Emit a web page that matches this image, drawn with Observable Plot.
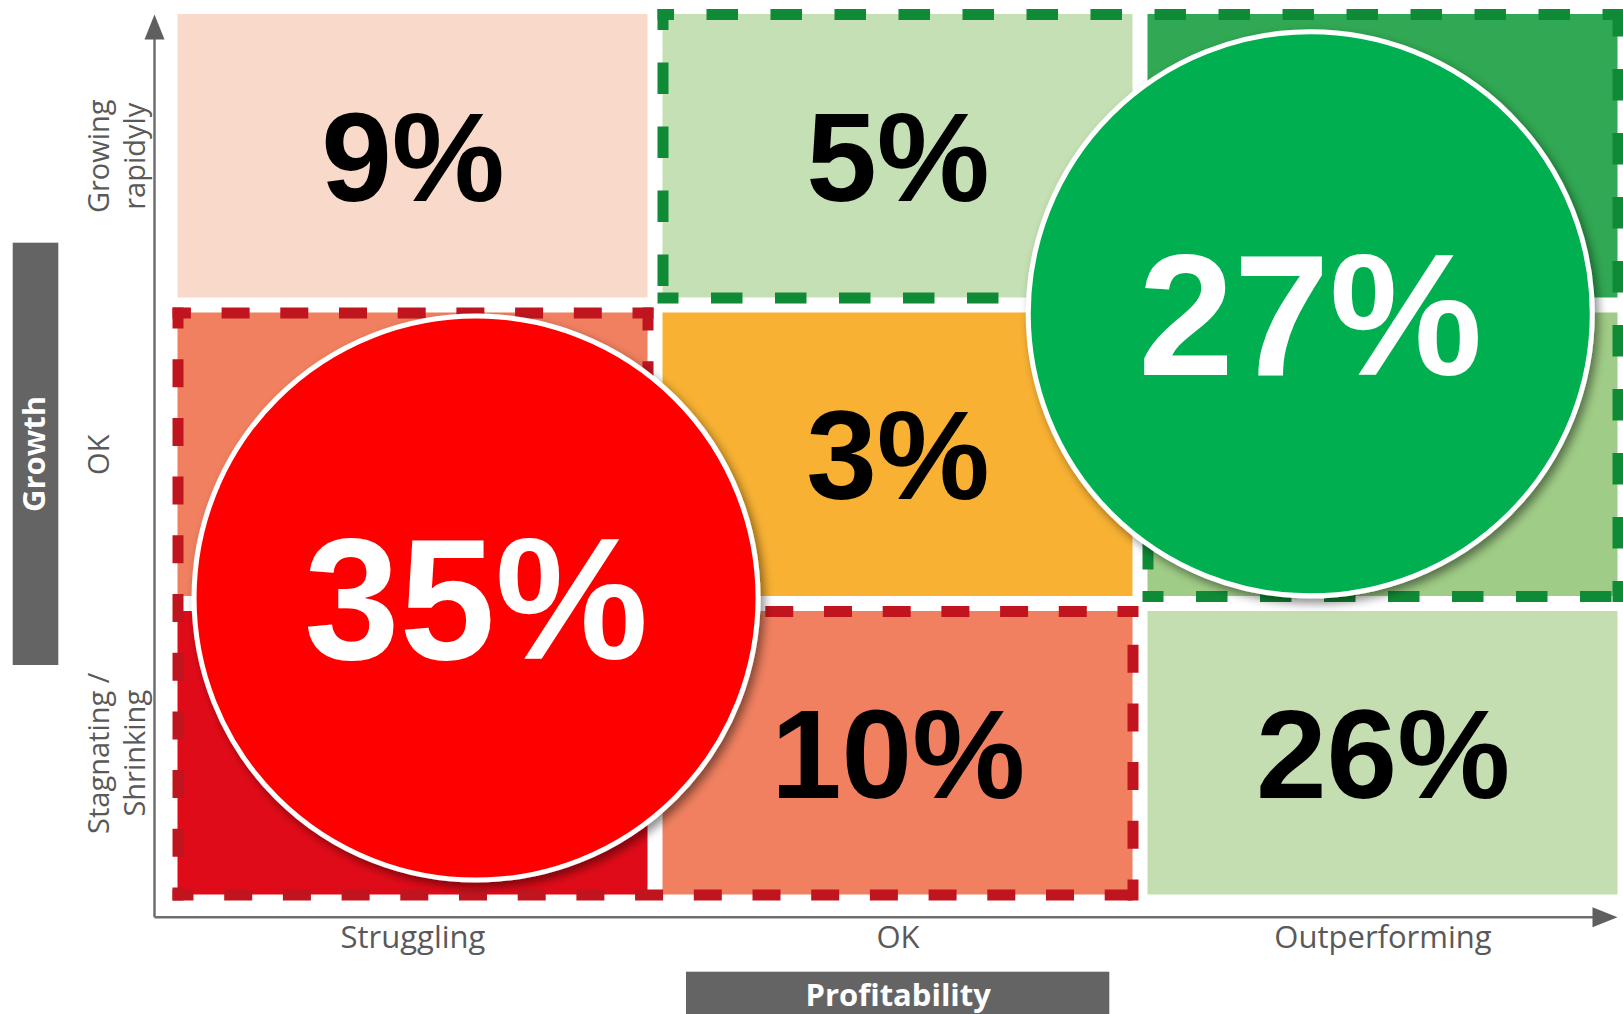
<!DOCTYPE html>
<html><head><meta charset="utf-8">
<script src="https://cdn.jsdelivr.net/npm/d3@7"></script>
<script src="https://cdn.jsdelivr.net/npm/@observablehq/plot@0.6"></script>
<style>
html,body{margin:0;padding:0;background:#fff;}
#chart{width:1623px;height:1014px;overflow:hidden;}
</style></head>
<body><div id="chart"></div>
<script>
// ---------- data ----------
const profitability = ["Struggling", "OK", "Outperforming"];            // x categories, left → right
const growth = ["Stagnating /\nShrinking", "OK", "Growing\nrapidyly"];  // y categories, bottom → top
// share of companies per cell, rows bottom → top, columns left → right
const cellShares = [
  ["", "10%", "26%"],
  ["", "3%", ""],
  ["9%", "5%", ""]
];
// highlighted totals (bubbles), positioned in category units
const bubbleLabels = ["35%", "27%"];
const bubbleX = [0.63, 2.35];
const bubbleY = [1.02, 1.972];
// outlined groups as grid vertices (category units)
const redGroup = [[0,2],[0,0],[2,0],[2,1],[1,1],[1,2]];
const greenGroup = [[1,3],[1,2],[2,2],[2,1],[3,1],[3,3]];

// ---------- styles ----------
const cellColors = [
  ["#E00B18", "#F08060", "#C4DEB2"],
  ["#F08060", "#F8B133", "#9FCC86"],
  ["#F9D9CA", "#C5E0B4", "#31A853"]
];
const bubbleColors = ["#FF0000", "#00AF50"];

const W = 1623, H = 1014;
const xRange = [170, 1625], yRange = [902, 6.5];
const kx = (xRange[1] - xRange[0]) / 3, ky = (yRange[0] - yRange[1]) / 3;
const INSET = 7.5;
const ex = INSET / kx, ey = INSET / ky;
const px2x = p => (p - xRange[0]) / kx;
const px2y = p => (yRange[0] - p) / ky;

const cells = [];
cellShares.forEach((row, r) => row.forEach((label, c) => cells.push({c, r, label, color: cellColors[r][c]})));
const bubbles = bubbleLabels.map((label, i) => ({label, x: bubbleX[i], y: bubbleY[i], color: bubbleColors[i]}));

function insetEdges(verts) {
  const n = verts.length;
  const normals = verts.map((v, i) => {
    const w = verts[(i + 1) % n];
    const dx = Math.sign(w[0] - v[0]), dy = Math.sign(w[1] - v[1]);
    return [-dy, dx];
  });
  const pts = verts.map((v, i) => {
    const a = normals[(i - 1 + n) % n], b = normals[i];
    return [v[0] + (a[0] + b[0]) * ex, v[1] + (a[1] + b[1]) * ey];
  });
  return pts.map((p, i) => {
    const q = pts[(i + 1) % n];
    return {x1: p[0], y1: p[1], x2: q[0], y2: q[1]};
  });
}
const redEdges = insetEdges(redGroup);
const greenEdges = insetEdges(greenGroup);

// axis geometry (px)
const axisX0 = 154, axisY0 = 916.7;
const axes = [
  {x1: px2x(axisX0), y1: px2y(axisY0), x2: px2x(axisX0), y2: px2y(38)},
  {x1: px2x(axisX0), y1: px2y(axisY0), x2: px2x(1594), y2: px2y(axisY0)}
];
const arrowUp = {draw(ctx) { ctx.moveTo(0, -12.5); ctx.lineTo(10, 12.5); ctx.lineTo(-10, 12.5); ctx.closePath(); }};
const arrowRight = {draw(ctx) { ctx.moveTo(12.5, 0); ctx.lineTo(-12.5, 10); ctx.lineTo(-12.5, -10); ctx.closePath(); }};

const SANS = "'Open Sans', 'Noto Sans', sans-serif";
const ARIAL = "'Liberation Sans', Arial, sans-serif";

const svg = Plot.plot({
  width: W, height: H,
  marginLeft: xRange[0], marginRight: 0,
  marginTop: yRange[1], marginBottom: H - yRange[0],
  x: {domain: [0, 3], range: xRange, axis: null},
  y: {domain: [0, 3], range: yRange, axis: null},
  style: {background: "#fff", color: "#595959", fontFamily: SANS},
  marks: [
    Plot.rect(cells, {x1: d => d.c, x2: d => d.c + 1, y1: d => d.r, y2: d => d.r + 1, fill: d => d.color, inset: INSET}),
    Plot.link(redEdges, {x1: "x1", y1: "y1", x2: "x2", y2: "y2", stroke: "#C0151F", strokeWidth: 11,
      strokeDasharray: "17 41.7", strokeDashoffset: 7, strokeLinecap: "square"}),
    Plot.link(greenEdges, {x1: "x1", y1: "y1", x2: "x2", y2: "y2", stroke: "#0F8A36", strokeWidth: 11,
      strokeDasharray: "20.5 43.5", strokeDashoffset: 10.5, strokeLinecap: "square"}),
    Plot.text(cells.filter(d => d.label), {x: d => d.c + 0.5, y: d => d.r + 0.5, text: "label",
      fill: "#000", fontSize: 127, fontWeight: "bold", fontFamily: ARIAL, dy: 4}),
    Plot.dot(bubbles, {x: "x", y: "y", r: 282, fill: "color", stroke: "#fff", strokeWidth: 5, ariaDescription: "bubbles"}),
    Plot.text(bubbles, {x: "x", y: "y", text: "label", fill: "#fff", fontSize: 172, fontWeight: "bold", fontFamily: ARIAL, dy: 6}),
    // axes
    Plot.link(axes, {x1: "x1", y1: "y1", x2: "x2", y2: "y2", stroke: "#6E6E6E", strokeWidth: 2.5}),
    Plot.dot([0], {x: px2x(axisX0), y: px2y(26.5), r: 10, symbol: arrowUp, fill: "#5F5F5F"}),
    Plot.dot([0], {x: px2x(1604.5), y: px2y(axisY0), r: 10, symbol: arrowRight, fill: "#5F5F5F"}),
    // category labels
    Plot.text(profitability, {x: (d, i) => i + 0.5, text: d => d, frameAnchor: "bottom", lineAnchor: "top",
      textAnchor: "middle", dy: 23, fontSize: 31, fill: "#595959"}),
    Plot.text(growth, {y: (d, i) => i + 0.5, text: d => d, frameAnchor: "left", dx: -88, rotate: -90,
      textAnchor: "middle", lineAnchor: "top", lineHeight: 1.27, fontSize: 29, fill: "#595959"}),
    // axis title boxes
    Plot.rect([0], {x1: px2x(12.7), x2: px2x(58.3), y1: px2y(242.7), y2: px2y(665), fill: "#646464"}),
    Plot.text(["Growth"], {x: px2x(34.5), y: px2y(453.5), text: d => d, rotate: -90, fill: "#fff",
      fontSize: 31, fontWeight: "bold"}),
    Plot.rect([0], {x1: px2x(686), x2: px2x(1109.3), y1: px2y(971.7), y2: px2y(1020), fill: "#646464"}),
    Plot.text(["Profitability"], {x: px2x(897.7), y: px2y(996), text: d => d, fill: "#fff",
      fontSize: 31, fontWeight: "bold"})
  ]
});

d3.select(svg).insert("defs", ":first-child").html(
  '<filter id="bubbleShadow" x="-20%" y="-20%" width="140%" height="140%">' +
  '<feDropShadow dx="4" dy="5" stdDeviation="5" flood-color="#000" flood-opacity="0.45"/></filter>');
d3.select(svg).select('g[aria-description="bubbles"]').attr("filter", "url(#bubbleShadow)");

document.getElementById("chart").appendChild(svg);
</script>
</body></html>
